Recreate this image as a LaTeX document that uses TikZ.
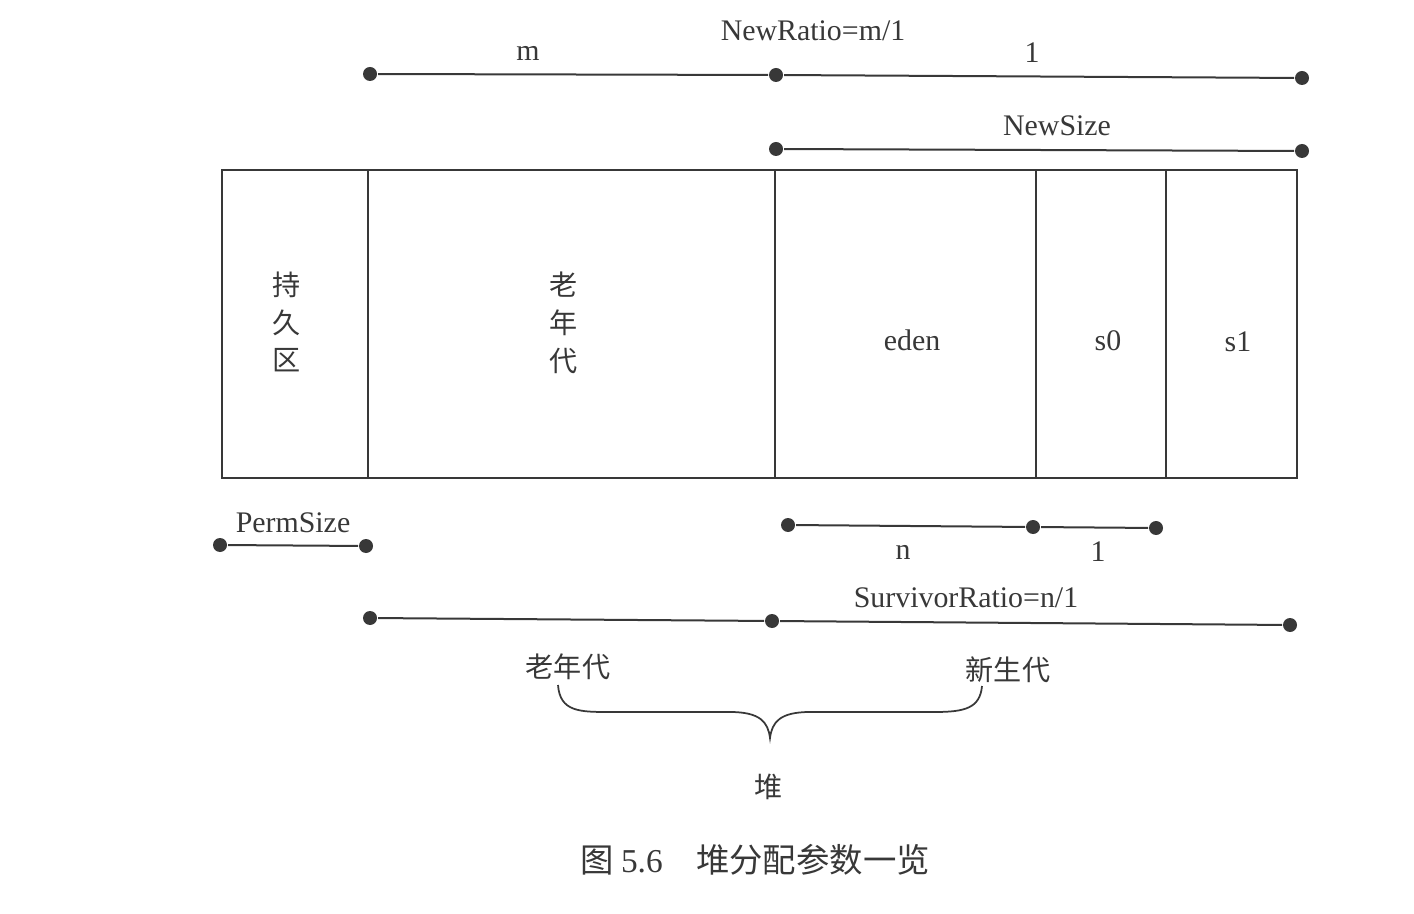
\documentclass[tikz,border=0pt]{standalone}
\usepackage{fontspec}
\setmainfont{Liberation Serif}
\newfontfamily\cjk{Noto Sans CJK SC}
\definecolor{ink}{gray}{0.22}
\tikzset{
  dot/.style={circle,fill=ink,inner sep=0pt,minimum size=2.8mm},
  lbl/.style={font=\fontsize{17}{20}\selectfont,text=ink,inner sep=0pt},
  zh/.style={font=\cjk\fontsize{16}{21.5}\selectfont,text=ink,inner sep=0pt,align=center},
}
\begin{document}
\begin{tikzpicture}[x=0.2mm,y=-0.2mm,line width=0.4mm,draw=ink]
	\useasboundingbox (0,0) rectangle (1414,914);
	
	%NewRatio line
	\node[dot] (r1) at (370,74) {};
	\node[dot] (r2) at (776,75) {};
	\node[dot] (r3) at (1302,78) {};
	\draw (r1) -- (r2) -- (r3); %m and 1
	\node[lbl] (m) at (528,53) {m};
	\node[lbl] (one) at (1032,53) {1};
	\node[lbl] (ratio) at (813,31) {NewRatio=m/1};
	
	%NewSize line
	\node[dot] (s1) at (776,149) {};
	\node[dot] (s2) at (1302,151) {};
	\draw (s1) -- (s2);
	\node[lbl] (newsize) at (1057,126) {NewSize};
	
	%heap boxes
	\draw (222,170) rectangle (1297,478);
	\draw (368,170) -- (368,478); %perm | old
	\draw (775,170) -- (775,478); %old | eden
	\draw (1036,170) -- (1036,478); %eden | s0
	\draw (1166,170) -- (1166,478); %s0 | s1
	\node[zh] (perm) at (287,322) {持\\久\\区};
	\node[zh] (old) at (564,323) {老\\年\\代};
	\node[lbl] (eden) at (912,340) {eden};
	\node[lbl] (s0) at (1108,341) {s0};
	\node[lbl] (sone) at (1238,342) {s1};
	
	%PermSize
	\node[dot] (p1) at (220,545) {};
	\node[dot] (p2) at (366,546) {};
	\draw (p1) -- (p2);
	\node[lbl] (permsize) at (293,523) {PermSize};
	
	%SurvivorRatio
	\node[dot] (n1) at (788,525) {};
	\node[dot] (n2) at (1033,527) {};
	\node[dot] (n3) at (1156,528) {};
	\draw (n1) -- (n2) -- (n3);
	\node[lbl] (n) at (903,552) {n};
	\node[lbl] (none) at (1098,552) {1};
	\node[lbl] (surv) at (966,598) {SurvivorRatio=n/1};
	
	%old + young
	\node[dot] (h1) at (370,618) {};
	\node[dot] (h2) at (772,621) {};
	\node[dot] (h3) at (1290,625) {};
	\draw (h1) -- (h2) -- (h3);
	\node[zh] (oldgen) at (568,667) {老年代};
	\node[zh] (newgen) at (1008,670) {新生代};
	
	%brace
	\draw[line width=0.35mm] (558,685) .. controls (560,712) and (580,712) .. (610,712)
	  -- (730,712) .. controls (760,712) and (768,722) .. (770,738)
	  .. controls (772,722) and (780,712) .. (810,712)
	  -- (935,712) .. controls (965,712) and (980,708) .. (982,686);
	\node[zh] (heap) at (769,787) {堆};
	
	%caption
	\node[zh,font=\cjk\fontsize{19}{22}\selectfont] (cap) at (755,860) {图 {\rmfamily 5.6}\quad 堆分配参数一览};
\end{tikzpicture}
\end{document}
